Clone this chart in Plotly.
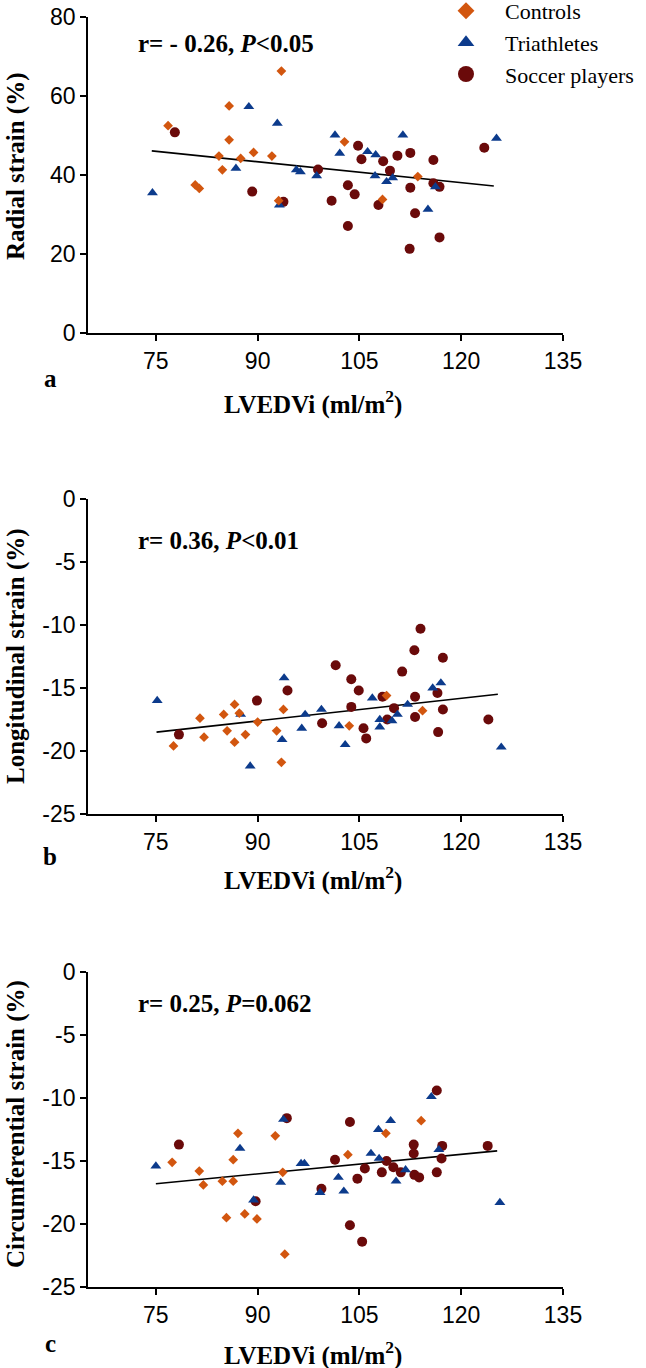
import plotly.graph_objects as go

W, H = 646, 1368

# ---------------- data ----------------
ctrl_x_a = [76.8, 85.8, 85.8, 84.3, 89.4, 87.5, 92.1, 84.8, 80.8, 81.4, 102.8, 113.6, 108.4, 93.1, 93.5]
ctrl_y_a = [52.5, 57.5, 48.9, 44.8, 45.7, 44.2, 44.8, 41.3, 37.5, 36.6, 48.4, 39.6, 33.8, 33.5, 66.3]
tri_x_a = [74.5, 88.7, 92.9, 86.8, 101.4, 102.1, 106.2, 107.4, 111.4, 125.2, 95.7, 96.3, 98.7, 107.3, 109.0, 109.9, 116.2, 115.1, 93.2]
tri_y_a = [35.5, 57.3, 53.1, 41.7, 50.1, 45.5, 45.9, 45.1, 50.1, 49.3, 41.3, 40.8, 39.8, 39.8, 38.3, 39.3, 37.0, 31.3, 32.4]
soc_x_a = [77.8, 89.2, 93.8, 98.9, 104.8, 105.3, 108.5, 110.6, 112.5, 115.9, 109.5, 123.4, 103.3, 104.3, 100.9, 107.8, 112.5, 115.9, 116.8, 113.2, 103.3, 116.8, 112.4]
soc_y_a = [50.8, 35.8, 33.2, 41.4, 47.4, 44.0, 43.5, 44.9, 45.6, 43.8, 41.1, 46.9, 37.4, 35.1, 33.5, 32.4, 36.8, 37.9, 37.0, 30.3, 27.1, 24.2, 21.3]
fit_x_a = [74.4, 124.8]
fit_y_a = [46.1, 37.2]

ctrl_x_b = [77.6, 81.5, 82.1, 85.0, 86.6, 87.3, 85.5, 86.6, 88.2, 90.0, 92.8, 93.8, 103.5, 109.0, 114.3, 93.5]
ctrl_y_b = [-19.6, -17.4, -18.9, -17.1, -16.3, -17.0, -18.4, -19.3, -18.7, -17.7, -18.4, -16.7, -18.0, -15.6, -16.8, -20.9]
tri_x_b = [75.2, 87.5, 93.9, 93.6, 97.0, 96.5, 99.4, 102.0, 102.9, 106.9, 108.0, 108.0, 109.8, 110.6, 112.1, 115.8, 117.0, 125.9, 88.9]
tri_y_b = [-16.0, -17.1, -14.2, -19.1, -17.1, -18.2, -16.7, -18.0, -19.5, -15.8, -17.5, -18.1, -17.6, -17.1, -16.3, -15.0, -14.6, -19.7, -21.2]
soc_x_b = [78.4, 89.9, 94.4, 101.5, 103.8, 104.9, 103.8, 99.5, 105.6, 106.0, 108.4, 110.1, 109.1, 111.3, 113.1, 114.0, 113.2, 113.2, 116.5, 117.3, 117.3, 116.6, 124.0]
soc_y_b = [-18.7, -16.0, -15.2, -13.2, -14.3, -15.2, -16.5, -17.8, -18.2, -19.0, -15.7, -16.6, -17.5, -13.7, -12.0, -10.3, -15.7, -17.3, -15.4, -12.6, -16.7, -18.5, -17.5]
fit_x_b = [75.1, 125.4]
fit_y_b = [-18.5, -15.5]

ctrl_x_c = [77.4, 81.4, 82.0, 84.8, 86.4, 86.4, 87.1, 92.6, 93.7, 103.3, 108.9, 114.1, 85.4, 88.1, 89.9, 94.0]
ctrl_y_c = [-15.1, -15.8, -16.9, -16.6, -16.6, -14.9, -12.8, -13.0, -15.9, -14.5, -12.8, -11.8, -19.5, -19.2, -19.6, -22.4]
tri_x_c = [75.0, 87.4, 93.8, 93.4, 89.4, 96.4, 96.9, 99.2, 101.9, 102.7, 106.7, 107.9, 107.8, 109.6, 110.4, 111.8, 115.6, 116.7, 125.7]
tri_y_c = [-15.4, -14.0, -11.7, -16.7, -18.1, -15.2, -15.2, -17.5, -16.3, -17.4, -14.4, -14.8, -12.5, -11.8, -16.6, -15.7, -9.9, -14.1, -18.3]
soc_x_c = [78.4, 94.3, 89.7, 99.4, 101.4, 103.6, 104.7, 105.8, 108.3, 109.0, 110.0, 111.1, 113.0, 113.0, 113.1, 113.8, 116.4, 117.2, 117.1, 116.4, 123.9, 103.6, 105.4]
soc_y_c = [-13.7, -11.6, -18.2, -17.2, -14.9, -11.9, -16.4, -15.6, -15.9, -15.0, -15.5, -15.9, -13.7, -14.4, -16.1, -16.3, -9.4, -13.8, -14.8, -15.9, -13.8, -20.1, -21.4]
fit_x_c = [75.0, 125.3]
fit_y_c = [-16.8, -14.2]

group_names = ["Controls", "Triathletes", "Soccer players"]
x_ticks = [75, 90, 105, 120, 135]
y_ticks_a = [0, 20, 40, 60, 80]
y_ticks_bc = [0, -5, -10, -15, -20, -25]
y_ticklabels_bc = ["0", "-5", "-10", "-15", "-20", "-25"]
y_titles = ["Radial strain (%)", "Longitudinal strain (%)", "Circumferential strain (%)"]
stat_texts = ["r= - 0.26, <i>P</i>&lt;0.05", "r= 0.36, <i>P</i>&lt;0.01", "r= 0.25, <i>P</i>=0.062"]
panel_letters = ["a", "b", "c"]

# ---------------- style ----------------
C_CTRL = "#D2560F"
C_TRI = "#0C3B8C"
C_SOC = "#6A0A0A"
SERIF = "Liberation Serif"
SANS = "Liberation Sans"

# panel pixel geometry (top, bottom) of plotting areas
panels_px = [(17, 333), (499, 814), (972, 1287)]
x_px = (88, 563)

fig = go.Figure()

panels = [
    (ctrl_x_a, ctrl_y_a, tri_x_a, tri_y_a, soc_x_a, soc_y_a, fit_x_a, fit_y_a),
    (ctrl_x_b, ctrl_y_b, tri_x_b, tri_y_b, soc_x_b, soc_y_b, fit_x_b, fit_y_b),
    (ctrl_x_c, ctrl_y_c, tri_x_c, tri_y_c, soc_x_c, soc_y_c, fit_x_c, fit_y_c),
]

for i, (cx, cy, tx, ty, sx, sy, fx, fy) in enumerate(panels):
    xa = "x" if i == 0 else f"x{i+1}"
    ya = "y" if i == 0 else f"y{i+1}"
    fig.add_trace(go.Scatter(x=fx, y=fy, mode="lines", line=dict(color="black", width=1.6),
                             xaxis=xa, yaxis=ya, showlegend=False, hoverinfo="skip"))
    fig.add_trace(go.Scatter(x=sx, y=sy, mode="markers", xaxis=xa, yaxis=ya, showlegend=False,
                             marker=dict(symbol="circle", size=10, color=C_SOC, line=dict(width=0))))
    fig.add_trace(go.Scatter(x=tx, y=ty, mode="markers", xaxis=xa, yaxis=ya, showlegend=False,
                             marker=dict(symbol="triangle-up", size=9.5, color=C_TRI, line=dict(width=0))))
    fig.add_trace(go.Scatter(x=cx, y=cy, mode="markers", xaxis=xa, yaxis=ya, showlegend=False,
                             marker=dict(symbol="diamond", size=7.5, color=C_CTRL, line=dict(width=0))))

# legend-only traces
for name, sym, size, col in [(group_names[0], "diamond", 13, C_CTRL),
                             (group_names[1], "triangle-up", 14.5, C_TRI),
                             (group_names[2], "circle", 16, C_SOC)]:
    fig.add_trace(go.Scatter(x=[None], y=[None], mode="markers", name=name,
                             marker=dict(symbol=sym, size=size, color=col, line=dict(width=0))))

axis_common = dict(showline=True, linecolor="black", linewidth=1.8, ticks="outside",
                   ticklen=6, tickwidth=1.8, tickcolor="black", showgrid=False, zeroline=False,
                   tickfont=dict(family=SANS, size=23, color="black"))

layout = dict(width=W, height=H, margin=dict(l=0, r=0, t=0, b=0, autoexpand=False),
              paper_bgcolor="white", plot_bgcolor="white", showlegend=True,
              font=dict(family=SERIF, color="black"))

xdom = [x_px[0] / W, x_px[1] / W]
for i, (top, bot) in enumerate(panels_px):
    sfx = "" if i == 0 else str(i + 1)
    ydom = [1 - bot / H, 1 - top / H]
    layout[f"xaxis{sfx}"] = dict(domain=xdom, range=[65, 135], tickvals=x_ticks,
                                 anchor=f"y{sfx}", **axis_common)
    if i == 0:
        layout[f"yaxis{sfx}"] = dict(domain=ydom, range=[0, 80], tickvals=y_ticks_a,
                                     anchor=f"x{sfx}", **axis_common)
    else:
        layout[f"yaxis{sfx}"] = dict(domain=ydom, range=[-25, 0], tickvals=y_ticks_bc,
                                     ticktext=y_ticklabels_bc, anchor=f"x{sfx}", **axis_common)

layout["legend"] = dict(x=427 / W, y=1 + 10 / H, xanchor="left", yanchor="top",
                        font=dict(family=SERIF, size=22, color="black"),
                        bgcolor="rgba(0,0,0,0)", tracegroupgap=0, itemsizing="trace",
                        itemwidth=68)

fig.update_layout(**layout)

ann = []
title_centers = [166, 656, 1124]
stat_y = [43, 540, 1003]
letter_y = [378, 856, 1343]
xtitle_y = [402, 878, 1353]
for i in range(3):
    ann.append(dict(text=f"<b>{y_titles[i]}</b>", x=16 / W, y=1 - title_centers[i] / H,
                    xref="paper", yref="paper", xanchor="center", yanchor="middle",
                    textangle=-90, showarrow=False, font=dict(family=SERIF, size=25, color="black")))
    ann.append(dict(text=f"<b>{stat_texts[i]}</b>", x=136 / W, y=1 - stat_y[i] / H,
                    xref="paper", yref="paper", xanchor="left", yanchor="middle",
                    showarrow=False, font=dict(family=SERIF, size=25, color="black")))
    ann.append(dict(text=f"<b>{panel_letters[i]}</b>", x=50 / W, y=1 - letter_y[i] / H,
                    xref="paper", yref="paper", xanchor="center", yanchor="middle",
                    showarrow=False, font=dict(family=SERIF, size=25, color="black")))
    ann.append(dict(text="<b>LVEDVi (ml/m<sup>2</sup>)</b>", x=313 / W, y=1 - xtitle_y[i] / H,
                    xref="paper", yref="paper", xanchor="center", yanchor="middle",
                    showarrow=False, font=dict(family=SERIF, size=25, color="black")))
fig.update_layout(annotations=ann)

fig.write_html("out.html", config={"displayModeBar": False},
               post_script="document.body.style.margin='0';document.body.style.padding='0';")
